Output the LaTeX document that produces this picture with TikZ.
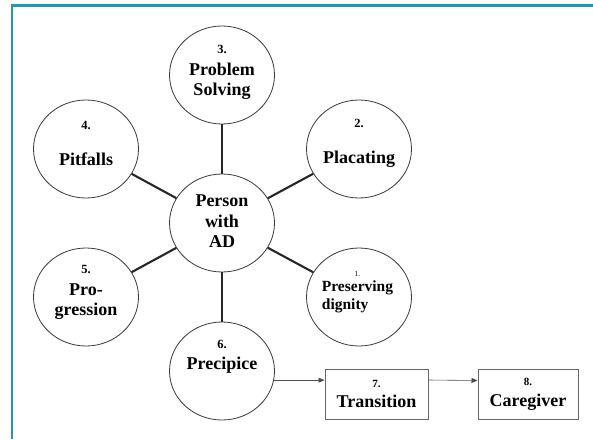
\documentclass[tikz,border=0pt]{standalone}
\usepackage{fontspec}
\setmainfont{Liberation Serif}
\usetikzlibrary{shapes.geometric,arrows.meta}
\definecolor{frameteal}{RGB}{33,152,180}
\newcommand{\numsz}{\fontsize{12.5}{14}\selectfont}
\begin{document}
\begin{tikzpicture}[x=1pt, y=-1pt,
  every node/.style={font=\bfseries\fontsize{18}{20.5}\selectfont},
  topic/.style={ellipse, draw=black!78, line width=0.8pt, minimum width=105pt, minimum height=98pt, inner sep=0pt},
  stagebox/.style={rectangle, draw=black!60, line width=1pt, minimum height=50pt, inner sep=0pt},
  txt/.style={align=center, inner sep=0pt},
  spoke/.style={line width=2.1pt, black!85},
  flow/.style={-{Triangle[length=6pt,width=5pt]}, line width=0.6pt, black!70}]
  \useasboundingbox (0,0) rectangle (593,439);
  % open frame
  \draw[frameteal, line width=2.4pt] (12.2,439) -- (12.2,5.3) -- (593,5.3);
  % circles round the person
  \node[topic] (hub) at (222,223) {};
  \foreach \n/\x/\y in {c3/222/75, c4/86/149, c2/359/149, c5/86/297, c1/359/297, c6/222/371}
    \node[topic] (\n) at (\x,\y) {};
  \foreach \n in {c1,c2,c3,c4,c5,c6}
    \draw[spoke] (hub) -- (\n);
  % texts
  \node[txt] (hubt) at (222,221.5) {Person\\with\\AD};
  \foreach \n/\x/\y/\t in {c3t/222/72.5/{{\numsz 3.}\\[1.5pt]Problem\\Solving},
      c4t/86/143.5/{{\numsz 4.}\\[16pt]Pitfalls},
      c2t/359/143.5/{{\numsz 2.}\\[16pt]Placating},
      c5t/86/292.5/{{\numsz 5.}\\[1.5pt]Pro-\\gression},
      c6t/222/357/{{\numsz 6.}\\Precipice}}
    \node[txt] (\n) at (\x,\y) {\t};
  \node[inner sep=0pt, font=\bfseries\fontsize{15.5}{18}\selectfont] (c1t) at (357.5,289)
    {\begin{tabular}{@{}l@{}}\multicolumn{1}{@{}c@{}}{\mdseries\fontsize{7.5}{9}\selectfont 1.}\\[-3pt]Preserving\\dignity\end{tabular}};
  % stages after the precipice
  \node[stagebox, minimum width=103pt, align=center] (b7) at (376.5,394) {{\fontsize{11}{13}\selectfont 7.}\\Transition};
  \node[stagebox, minimum width=100pt, align=center] (b8) at (528,394.5) {{\fontsize{11}{13}\selectfont 8.}\\Caregiver};
  \draw[flow] (c6.-10) -- (c6.-10 -| b7.west);
  \draw[flow] ([yshift=14pt]b7.east) -- ([yshift=14pt]b8.west);
\end{tikzpicture}
\end{document}
